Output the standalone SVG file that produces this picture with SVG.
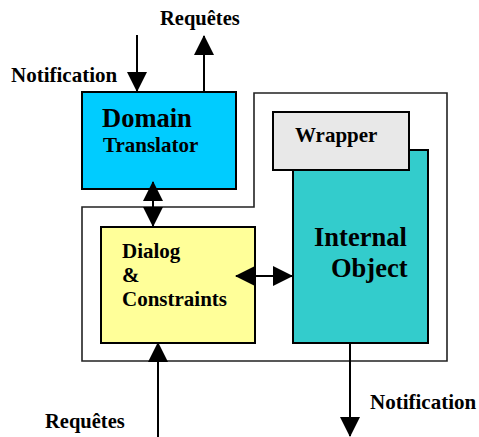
<svg xmlns="http://www.w3.org/2000/svg" width="479" height="437" viewBox="0 0 479 437">
<style>
  .lbl{font-family:"Liberation Serif","Times New Roman",serif;font-weight:bold;fill:#000}
  .box{stroke:#000;stroke-width:2}
  .con{stroke:#000;stroke-width:2;fill:none}
</style>
<defs>
  <marker id="ah" markerUnits="userSpaceOnUse" viewBox="0 0 20 20" markerWidth="20" markerHeight="20" refX="19" refY="10" orient="auto-start-reverse">
    <path d="M0,0 L20,10 L0,20 Z" fill="#000"/>
  </marker>
</defs>
<rect width="479" height="437" fill="#fff"/>
<g id="container">
  <path d="M82,207 L254,207 L254,93 L447,93 L447,361 L82,361 Z" fill="none" stroke="#222" stroke-width="1.6"/>
</g>
<g id="domain-translator">
  <rect class="box" x="82" y="92" width="154" height="97" fill="#00CCFF"/>
  <text class="lbl" x="102" y="127" font-size="26.5">Domain</text>
  <text class="lbl" x="103" y="152" font-size="21">Translator</text>
</g>
<g id="internal-object">
  <rect class="box" x="293" y="150" width="135" height="193" fill="#33CCCC"/>
  <text class="lbl" x="314" y="246" font-size="26.5">Internal</text>
  <text class="lbl" x="331" y="277" font-size="26.5">Object</text>
</g>
<g id="wrapper">
  <rect class="box" x="273" y="112" width="136" height="58" fill="#E8E8E8"/>
  <text class="lbl" x="295" y="142" font-size="21">Wrapper</text>
</g>
<g id="dialog-constraints">
  <rect class="box" x="101" y="227" width="154" height="116" fill="#FFFF99"/>
  <text class="lbl" x="122" y="258" font-size="21">Dialog</text>
  <text class="lbl" x="122" y="282" font-size="21">&amp;</text>
  <text class="lbl" x="122" y="306" font-size="21">Constraints</text>
</g>
<g id="labels">
  <text class="lbl" x="160" y="25" font-size="20.5">Requêtes</text>
  <text class="lbl" x="11" y="82" font-size="21">Notification</text>
  <text class="lbl" x="45" y="428" font-size="20.5">Requêtes</text>
  <text class="lbl" x="370" y="409" font-size="21">Notification</text>
</g>
<g id="connectors">
  <line class="con" x1="137" y1="35" x2="137" y2="91" marker-end="url(#ah)"/>
  <line class="con" x1="204" y1="92" x2="204" y2="36" marker-end="url(#ah)"/>
  <line class="con" x1="153" y1="182" x2="153" y2="226" marker-start="url(#ah)" marker-end="url(#ah)"/>
  <line class="con" x1="236" y1="276" x2="292" y2="276" marker-start="url(#ah)" marker-end="url(#ah)"/>
  <line class="con" x1="158" y1="437" x2="158" y2="343" marker-end="url(#ah)"/>
  <line class="con" x1="350" y1="343" x2="350" y2="436" marker-end="url(#ah)"/>
</g>
</svg>
